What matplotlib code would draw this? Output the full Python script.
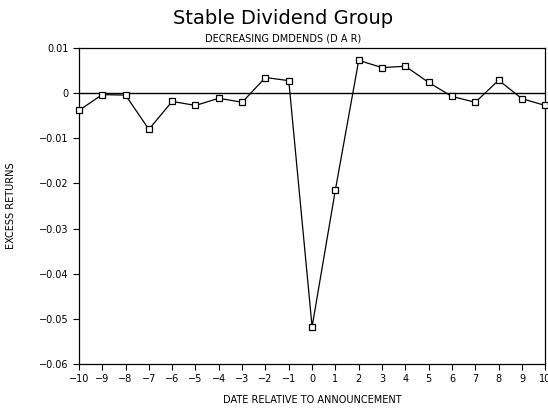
import matplotlib
matplotlib.use('Agg')
import matplotlib.pyplot as plt

days = list(range(-10, 11))
excess = [-0.0038, -0.0003, -0.0004, -0.0080, -0.0018, -0.0027, -0.0011, -0.0020,
          0.0035, 0.0028, -0.0518, -0.0214, 0.0073, 0.0057, 0.0060, 0.0024,
          -0.0007, -0.0020, 0.0029, -0.0012, -0.0027]
yticks = [0.01, 0, -0.01, -0.02, -0.03, -0.04, -0.05, -0.06]
ytick_labels = ['0.01', '0', '-0.01', '-0.02', '-0.03', '-0.04', '-0.05', '-0.06']

plt.rcParams['font.family'] = 'DejaVu Sans'
fig = plt.figure(figsize=(5.48, 4.12), dpi=100)
ax = fig.add_axes([0.144, 0.117, 0.851, 0.766])

ax.axhline(0, color='black', lw=1.0)
ax.plot(days, excess, color='black', lw=0.9, marker='s', markersize=5,
        markerfacecolor='white', markeredgecolor='black', markeredgewidth=0.9,
        clip_on=False, zorder=3)

ax.set_xlim(-10, 10)
ax.set_ylim(-0.06, 0.01)
ax.set_xticks(days)
ax.set_xticklabels([str(d).replace('-', '\u2212') for d in days], fontsize=7)
ax.set_yticks(yticks)
ax.set_yticklabels([t.replace('-', '\u2212') for t in ytick_labels], fontsize=7)
ax.tick_params(direction='out', length=4, width=0.8)
for s in ax.spines.values():
    s.set_linewidth(0.9)

ax.set_xlabel('DATE RELATIVE TO ANNOUNCEMENT', fontsize=7, labelpad=8)
ax.set_ylabel('EXCESS RETURNS', fontsize=7)
ax.yaxis.set_label_coords(-0.135, 0.5)
fig.text(0.517, 0.955, 'Stable Dividend Group', ha='center', va='center', fontsize=14)
fig.text(0.517, 0.907, 'DECREASING DMDENDS (D A R)', ha='center', va='center', fontsize=7)

fig.savefig('out.png', dpi=100)
